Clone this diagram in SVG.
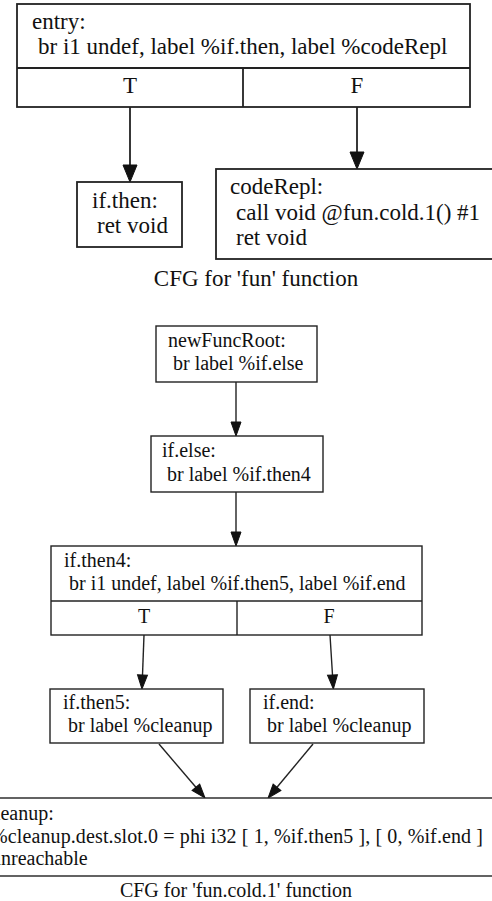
<svg xmlns="http://www.w3.org/2000/svg" width="492" height="901" viewBox="0 0 492 901">
  <style>
    text { font-family: "Liberation Serif", "Times New Roman", serif; fill: #111; }
    .g1 text { font-size: 23px; }
    .g2 text { font-size: 20px; }
    .mid { text-anchor: middle; }
    .g1 .box { fill: #fff; stroke: #222; stroke-width: 1.8; }
    .g2 .box { fill: #fff; stroke: #222; stroke-width: 1.4; }
    .g1 .edge { fill: none; stroke: #222; stroke-width: 1.8; }
    .g2 .edge { fill: none; stroke: #222; stroke-width: 1.4; }
  </style>
  <defs>
    <!-- arrowheads start at the end of each path and point forward -->
    <marker id="arrow-lg" markerUnits="userSpaceOnUse" markerWidth="18" markerHeight="16" refX="0" refY="7" orient="auto" overflow="visible">
      <path d="M0,0 L17,7 L0,14 Z" fill="#111" stroke="#111" stroke-width="1"/>
    </marker>
    <marker id="arrow-sm" markerUnits="userSpaceOnUse" markerWidth="16" markerHeight="12" refX="0" refY="5" orient="auto" overflow="visible">
      <path d="M0,0 L14,5 L0,10 Z" fill="#111" stroke="#111" stroke-width="1"/>
    </marker>
  </defs>
  <rect width="492" height="901" fill="#fff"/>

  <!-- CFG for 'fun' -->
  <g class="g1">
    <g id="edges-fun">
      <path class="edge" d="M130,107 L130,165" marker-end="url(#arrow-lg)"/>
      <path class="edge" d="M357,107 L357,152" marker-end="url(#arrow-lg)"/>
    </g>
    <g id="entry">
      <rect class="box" x="17" y="4" width="453" height="103"/>
      <line class="box" x1="17" y1="68" x2="470" y2="68"/>
      <line class="box" x1="243" y1="68" x2="243" y2="107"/>
      <text x="32" y="29">entry:</text>
      <text x="38" y="54">br i1 undef, label %if.then, label %codeRepl</text>
      <text class="mid" x="130" y="93">T</text>
      <text class="mid" x="357" y="93">F</text>
    </g>
    <g id="if.then">
      <rect class="box" x="77" y="182" width="105" height="65"/>
      <text x="92" y="208">if.then:</text>
      <text x="97" y="233">ret void</text>
    </g>
    <g id="codeRepl">
      <rect class="box" x="216" y="169" width="280" height="90"/>
      <text x="230" y="194">codeRepl:</text>
      <text x="236" y="220">call void @fun.cold.1() #1</text>
      <text x="236" y="245">ret void</text>
    </g>
    <text class="mid" x="256" y="286">CFG for 'fun' function</text>
  </g>

  <!-- CFG for 'fun.cold.1' -->
  <g class="g2">
    <g id="edges-fun-cold">
      <path class="edge" d="M236,382 L236,422" marker-end="url(#arrow-sm)"/>
      <path class="edge" d="M236,492 L236,532" marker-end="url(#arrow-sm)"/>
      <path class="edge" d="M144,635 L142.5,675" marker-end="url(#arrow-sm)"/>
      <path class="edge" d="M330,635 L332.5,675" marker-end="url(#arrow-sm)"/>
      <path class="edge" d="M159,744 L195.9,787.3" marker-end="url(#arrow-sm)"/>
      <path class="edge" d="M313,744 L277,787.3" marker-end="url(#arrow-sm)"/>
    </g>
    <g id="newFuncRoot">
      <rect class="box" x="156" y="326" width="161" height="56"/>
      <text x="168" y="347">newFuncRoot:</text>
      <text x="173" y="370">br label %if.else</text>
    </g>
    <g id="if.else">
      <rect class="box" x="151" y="436" width="172" height="56"/>
      <text x="162" y="457">if.else:</text>
      <text x="167" y="481">br label %if.then4</text>
    </g>
    <g id="if.then4">
      <rect class="box" x="51" y="546" width="371" height="89"/>
      <line class="box" x1="51" y1="601" x2="422" y2="601"/>
      <line class="box" x1="237" y1="601" x2="237" y2="635"/>
      <text x="64" y="567">if.then4:</text>
      <text x="69" y="590">br i1 undef, label %if.then5, label %if.end</text>
      <text class="mid" x="144" y="623">T</text>
      <text class="mid" x="329" y="623">F</text>
    </g>
    <g id="if.then5">
      <rect class="box" x="50" y="689" width="173" height="54"/>
      <text x="63" y="709">if.then5:</text>
      <text x="68" y="732">br label %cleanup</text>
    </g>
    <g id="if.end">
      <rect class="box" x="250" y="689" width="174" height="54"/>
      <text x="263" y="709">if.end:</text>
      <text x="267" y="732">br label %cleanup</text>
    </g>
    <g id="cleanup">
      <rect class="box" x="-20" y="798" width="532" height="78"/>
      <text x="-14" y="820">cleanup:</text>
      <text x="-9" y="843" textLength="492" lengthAdjust="spacing">%cleanup.dest.slot.0 = phi i32 [ 1, %if.then5 ], [ 0, %if.end ]</text>
      <text x="-9" y="865">unreachable</text>
    </g>
    <text class="mid" x="236" y="897">CFG for 'fun.cold.1' function</text>
  </g>
</svg>
